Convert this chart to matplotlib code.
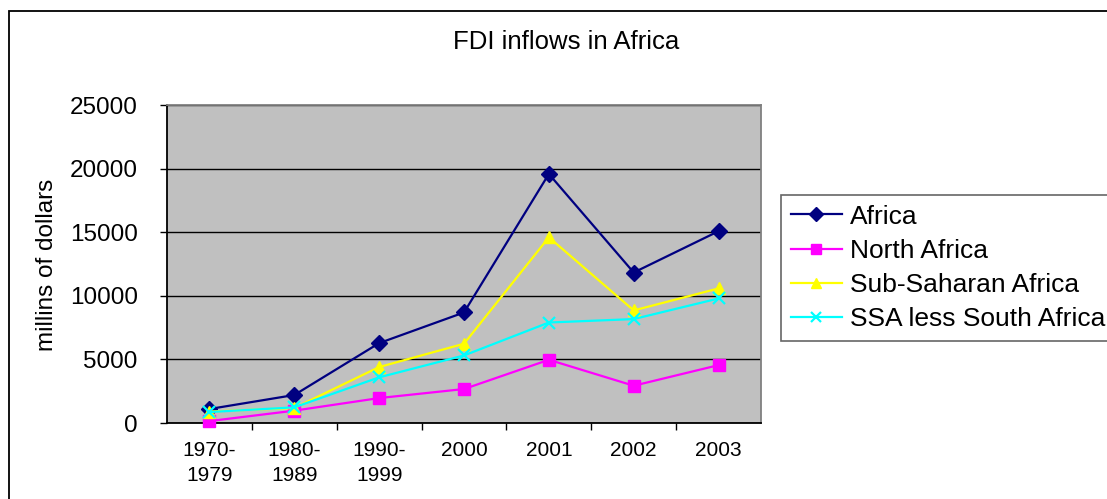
import matplotlib
matplotlib.use("Agg")
import matplotlib.pyplot as plt
from matplotlib.patches import Rectangle

plt.rcParams['font.family'] = ['Liberation Sans', 'DejaVu Sans']

periods = ["1970-\n1979", "1980-\n1989", "1990-\n1999", "2000", "2001", "2002", "2003"]
africa = [1100, 2200, 6280, 8690, 19580, 11830, 15080]
north_africa = [150, 970, 1960, 2670, 4970, 2930, 4550]
sub_saharan = [900, 1180, 4400, 6230, 14600, 8850, 10580]
ssa_less_sa = [860, 1230, 3590, 5310, 7900, 8170, 9790]
series_names = ["Africa", "North Africa", "Sub-Saharan Africa", "SSA less South Africa"]
y_ticks = [0, 5000, 10000, 15000, 20000, 25000]

W, H = 1107, 499
fig = plt.figure(figsize=(W / 100, H / 100), dpi=100)
fig.patch.set_facecolor("white")

# outer chart border (runs off the right and bottom edges)
fig.patches.append(Rectangle((9 / W, -0.2), 1.5, 1.2 - 11 / H, transform=fig.transFigure,
                             fill=False, edgecolor="black", linewidth=1.3, zorder=0))

ax = fig.add_axes([167 / W, (H - 423) / H, (761 - 167) / W, (423 - 105) / H])
ax.set_facecolor("#C0C0C0")

x = list(range(len(periods)))
styles = [
    (africa, "#000080", "D", 8),
    (north_africa, "#FF00FF", "s", 8),
    (sub_saharan, "#FFFF00", "^", 9),
    (ssa_less_sa, "#00FFFF", "x", 8.5),
]
handles = []
for (vals, col, mk, ms), name in zip(styles, series_names):
    mew = 1.6 if mk == "x" else 1
    h, = ax.plot(x, vals, color=col, marker=mk, markersize=ms, markerfacecolor=col,
                 markeredgecolor=col, markeredgewidth=mew, linewidth=1.6,
                 label=name, clip_on=False, zorder=3)
    handles.append(h)

ax.set_xlim(-0.5, len(periods) - 0.5)
ax.set_ylim(0, 25000)
ax.set_yticks(y_ticks)
ax.set_yticklabels([str(v) for v in y_ticks], fontsize=17.5)
ax.yaxis.grid(True, color="black", linewidth=1)
ax.set_axisbelow(True)

ax.set_xticks(x)
ax.set_xticklabels(periods, fontsize=15, linespacing=1.4)
ax.set_xticks([i + 0.5 for i in range(len(periods) - 1)], minor=True)
ax.tick_params(axis="x", which="major", length=0, pad=13)
ax.tick_params(axis="x", which="minor", length=5, width=1, direction="out", color="black")
ax.tick_params(axis="y", length=5, width=1, direction="out", pad=16)

for side in ("left", "bottom"):
    ax.spines[side].set_color("black")
    ax.spines[side].set_linewidth(1.3)
for side in ("top", "right"):
    ax.spines[side].set_color("#808080")
    ax.spines[side].set_linewidth(1.3)

fig.text(47 / W, 1 - 265 / H, "millins of dollars", rotation=90, ha="center", va="center",
         fontsize=17.5)
fig.text(566 / W, 1 - 42 / H, "FDI inflows in Africa", ha="center", va="center", fontsize=18.5)

leg = fig.legend(handles=handles, labels=series_names, loc="upper left",
                 bbox_to_anchor=(781 / W, 1 - 195 / H), bbox_transform=fig.transFigure,
                 fontsize=19, frameon=True, fancybox=False, borderpad=0.36,
                 handlelength=1.95, handletextpad=0.3, labelspacing=0.39,
                 borderaxespad=0)
leg.get_frame().set_edgecolor("#404040")
leg.get_frame().set_linewidth(1.2)
for lh in leg.legend_handles:
    lh.set_markersize(7)

fig.savefig("out.png", dpi=100)
